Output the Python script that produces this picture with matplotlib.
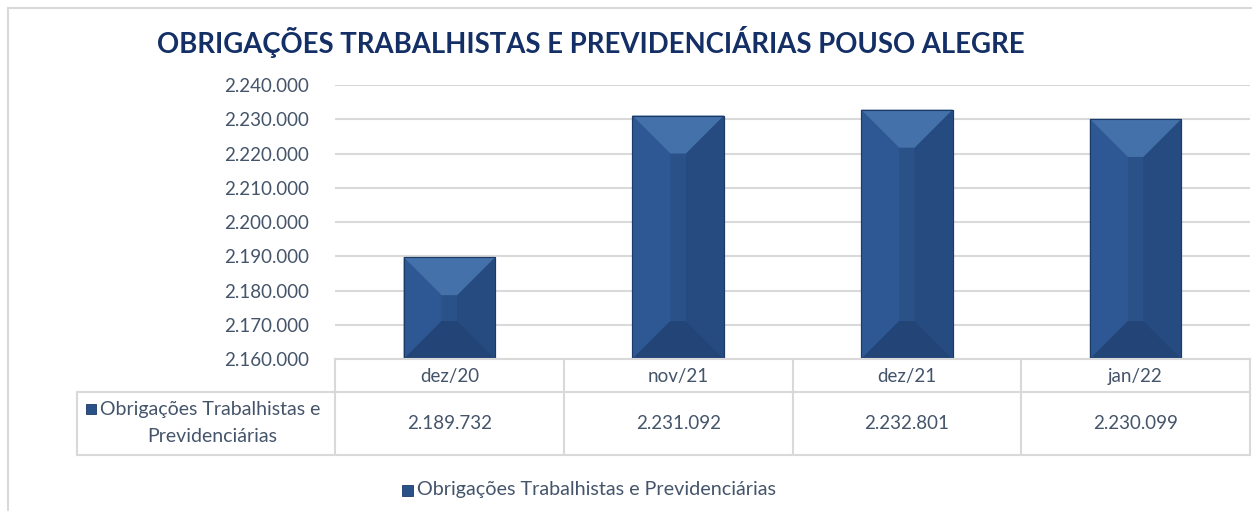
import matplotlib.pyplot as plt
from matplotlib.patches import Polygon, Rectangle
import numpy as np

categories = ["dez/20", "nov/21", "dez/21", "jan/22"]
values = [2189732, 2231092, 2232801, 2230099]
value_labels = ["2.189.732", "2.231.092", "2.232.801", "2.230.099"]
series_name = "Obrigações Trabalhistas e Previdenciárias"
title = "OBRIGAÇÕES TRABALHISTAS E PREVIDENCIÁRIAS POUSO ALEGRE"
yticks = [2160000, 2170000, 2180000, 2190000, 2200000, 2210000, 2220000, 2230000, 2240000]

plt.rcParams['font.family'] = ['Lato', 'DejaVu Sans']

W, H = 1252, 511
fig = plt.figure(figsize=(W / 100, H / 100), dpi=100)
fig.patch.set_facecolor("white")

text_col = "#44546A"
navy = "#132F66"
grid_col = "#D9D9D9"
bar_col = "#2A5289"
edge_col = "#1B3A66"


def fx(px):
    return px / W


def fy(py):
    return 1 - py / H


# chart border
fig.add_artist(Rectangle((fx(8), fy(600)), fx(1400), fy(8) - fy(600), transform=fig.transFigure,
                         fill=False, edgecolor=grid_col, lw=1.5))

ax = fig.add_axes([fx(335), fy(359), fx(1250) - fx(335), fy(85) - fy(359)])
ax.set_xlim(-0.5, len(categories) - 0.5)
ax.set_ylim(yticks[0], yticks[-1])
ax.set_yticks(yticks)
ax.set_yticklabels([f"{t:,}".replace(",", ".") for t in yticks], color=text_col, fontsize=13.5)
ax.tick_params(axis="y", length=0, pad=19)
ax.set_xticks([])
for s in ax.spines.values():
    s.set_visible(False)
ax.grid(axis="y", color=grid_col, lw=1.5)
ax.set_axisbelow(True)

x = np.arange(len(categories))
bars = ax.bar(x, values, width=0.4, color=bar_col, edgecolor=edge_col, lw=0.8, zorder=2)

# bevel facets computed from bar geometry
fig.canvas.draw()
inv = ax.transData.inverted()
depth = 38
ymin = ax.get_ylim()[0]
for b in bars:
    (x0, y0), (x1, y1) = ax.transData.transform([(b.get_x(), ymin), (b.get_x() + b.get_width(), b.get_height())])
    d = min(depth, (x1 - x0) / 2 - 2, (y1 - y0) / 2)
    facets = [
        ([(x0, y0), (x0, y1), (x0 + d, y1 - d), (x0 + d, y0 + d)], "#2D5893"),
        ([(x1, y0), (x1, y1), (x1 - d, y1 - d), (x1 - d, y0 + d)], "#254B80"),
        ([(x0, y1), (x1, y1), (x1 - d, y1 - d), (x0 + d, y1 - d)], "#4471A9"),
        ([(x0, y0), (x1, y0), (x1 - d, y0 + d), (x0 + d, y0 + d)], "#234477"),
    ]
    for pts, c in facets:
        ax.add_patch(Polygon(inv.transform(pts), closed=True, facecolor=c, edgecolor="none", zorder=3))
    ax.add_patch(Rectangle((b.get_x(), ymin), b.get_width(), b.get_height() - ymin,
                           fill=False, edgecolor=edge_col, lw=0.8, zorder=4))

# data table
col_edges = [335, 564, 793, 1021, 1250]
row_top, row_mid, row_bot = 359, 392, 455
lk = dict(color=grid_col, lw=1.5, transform=fig.transFigure)
fig.add_artist(plt.Line2D([fx(335), fx(1250)], [fy(row_top)] * 2, **lk))
fig.add_artist(plt.Line2D([fx(77), fx(1250)], [fy(row_mid)] * 2, **lk))
fig.add_artist(plt.Line2D([fx(77), fx(1250)], [fy(row_bot)] * 2, **lk))
for e in col_edges:
    fig.add_artist(plt.Line2D([fx(e)] * 2, [fy(row_top), fy(row_bot)], **lk))
fig.add_artist(plt.Line2D([fx(77)] * 2, [fy(row_mid), fy(row_bot)], **lk))

for i, (c, v) in enumerate(zip(categories, value_labels)):
    cxp = (col_edges[i] + col_edges[i + 1]) / 2
    fig.text(fx(cxp), fy((row_top + row_mid) / 2 + 1), c, ha="center", va="center", color=text_col, fontsize=13.5)
    fig.text(fx(cxp), fy((row_mid + row_bot) / 2), v, ha="center", va="center", color=text_col, fontsize=13.5)

# row header with legend key
fig.add_artist(Rectangle((fx(86), fy(414)), fx(10), fy(404) - fy(414), transform=fig.transFigure,
                         facecolor=bar_col, edgecolor=edge_col, lw=0.6))
fig.text(fx(100), fy(410), "Obrigações Trabalhistas e", ha="left", va="center", color=text_col, fontsize=14)
fig.text(fx(212), fy(436), "Previdenciárias", ha="center", va="center", color=text_col, fontsize=14)

# legend
fig.add_artist(Rectangle((fx(402), fy(496)), fx(11), fy(485) - fy(496), transform=fig.transFigure,
                         facecolor=bar_col, edgecolor=edge_col, lw=0.6))
fig.text(fx(417), fy(490), series_name, ha="left", va="center", color=text_col, fontsize=14.2)

fig.text(fx(591), fy(42), title, ha="center", va="center", color=navy, fontsize=19.8, fontweight="bold")

fig.savefig("out.png", dpi=100)
